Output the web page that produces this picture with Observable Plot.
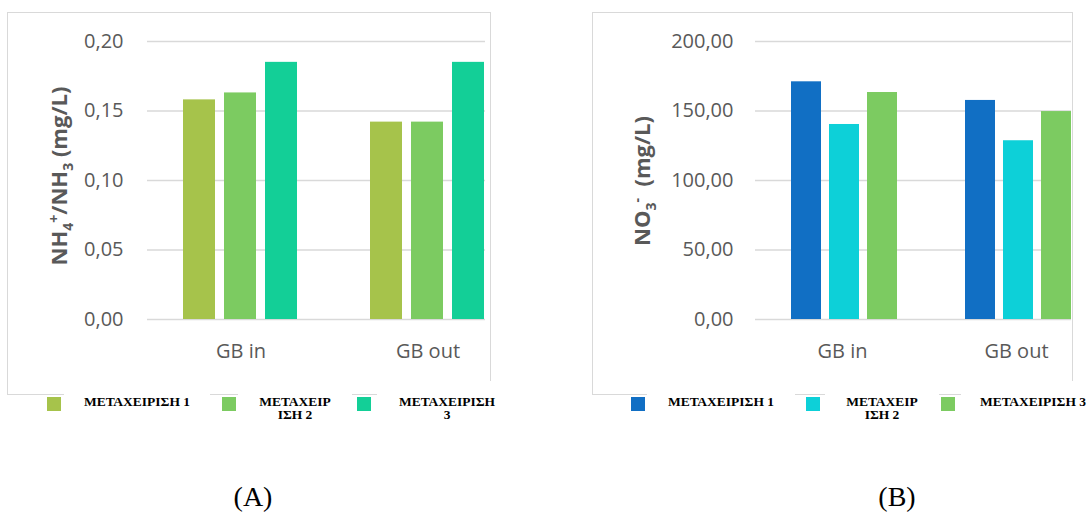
<!DOCTYPE html>
<html><head><meta charset="utf-8">
<script src="https://cdn.jsdelivr.net/npm/d3@7"></script>
<script src="https://cdn.jsdelivr.net/npm/@observablehq/plot@0.6"></script>
<style>
body{margin:0;background:#fff;}
#page{position:relative;width:1087px;height:515px;overflow:hidden;font-family:"Open Sans",sans-serif;background:#fff;}
.frame{position:absolute;border:1.5px solid #d9d9d9;box-sizing:border-box;}
.clip{position:absolute;top:0;height:392px;overflow:hidden;}
.clip svg{max-width:none !important;height:392px !important;}
.ylab{position:absolute;transform:translate(-50%,-50%) rotate(-90deg);white-space:nowrap;font-weight:700;font-size:22px;color:#595959;font-family:"Open Sans",sans-serif;}
.ylab sub,.ylab sup{font-size:14px;}
.legbox{position:absolute;background:#fff;top:381px;height:50px;}
.legtext{position:absolute;left:0;right:0;top:14px;font-family:"Liberation Serif",serif;font-weight:bold;font-size:13.5px;line-height:13px;text-align:center;color:#000;}
.sw{position:absolute;width:14px;height:14px;top:397px;}
.cap{position:absolute;top:483px;font-family:"Liberation Serif",serif;font-size:28px;line-height:28px;color:#000;transform:translateX(-50%);}
</style></head>
<body><div id="page"></div>
<script>
// ---- data ----
const groups = ["GB in", "GB out"];
const series = ["ΜΕΤΑΧΕΙΡΙΣΗ 1", "ΜΕΤΑΧΕΙΡΙΣΗ 2", "ΜΕΤΑΧΕΙΡΙΣΗ 3"];
const nh4In  = [0.158, 0.163, 0.185];
const nh4Out = [0.142, 0.142, 0.185];
const no3In  = [171.0, 140.3, 163.3];
const no3Out = [157.6, 128.6, 149.6];
const yTicksA = [0, 0.05, 0.10, 0.15, 0.20];
const yTicksB = [0, 50, 100, 150, 200];
const colorsA = ["#a6c34b", "#7ccb61", "#13cf97"];
const colorsB = ["#116fc4", "#0dd0d8", "#7ccb61"];
const legendLinesA = [["ΜΕΤΑΧΕΙΡΙΣΗ 1"], ["ΜΕΤΑΧΕΙΡ", "ΙΣΗ 2"], ["ΜΕΤΑΧΕΙΡΙΣΗ", "3"]];
const legendLinesB = [["ΜΕΤΑΧΕΙΡΙΣΗ 1"], ["ΜΕΤΑΧΕΙΡ", "ΙΣΗ 2"], ["ΜΕΤΑΧΕΙΡΙΣΗ 3"]];
const yLabelA = 'NH<sub>4</sub><sup>+</sup>/NH<sub>3</sub> (mg/L)';
const yLabelB = 'NO<sub>3</sub><sup>-</sup>&nbsp; (mg/L)';
const captions = ["(A)", "(B)"];

const page = document.getElementById("page");
const fmt = d => d.toFixed(2).replace(".", ",");

function table(inV, outV){
  return groups.flatMap((g, gi) => series.map((s, si) => ({group: g, series: s, value: (gi === 0 ? inV : outV)[si]})));
}

function addDiv(cls, style, html, parent){
  const d = document.createElement("div");
  d.className = cls;
  Object.assign(d.style, style);
  if (html != null) d.innerHTML = html;
  (parent || page).appendChild(d);
  return d;
}

function panel(cfg){
  addDiv("frame", {left: cfg.frame[0] + "px", top: "12px", width: (cfg.frame[1] - cfg.frame[0]) + "px", height: "383px"});
  const chart = Plot.plot({
    width: cfg.width, height: 392,
    marginLeft: cfg.ml, marginRight: 0, marginTop: 41, marginBottom: 73,
    style: {fontFamily: "'Open Sans', sans-serif", fontSize: "20px", color: "#595959", background: "transparent", maxWidth: "none"},
    fx: {domain: groups, paddingInner: 0, paddingOuter: 0, label: null, axis: "bottom", tickSize: 0, tickPadding: 24},
    x: {domain: series, paddingInner: cfg.xPi, paddingOuter: cfg.xPo, align: cfg.xAlign, axis: null},
    y: {domain: cfg.ydom},
    color: {domain: series, range: cfg.colors},
    marks: [
      Plot.gridY(cfg.ticks, {stroke: "#d9d9d9", strokeOpacity: 1, strokeWidth: 1.5}),
      Plot.axisY(cfg.ticks, {tickSize: 0, tickPadding: cfg.tp, tickFormat: fmt, label: null}),
      Plot.barY(cfg.data, {fx: "group", x: "series", y: "value", fill: "series"})
    ]
  });
  const clip = addDiv("clip", {left: cfg.left + "px", width: cfg.clipW + "px"});
  clip.appendChild(chart);
  addDiv("ylab", {left: cfg.ylabX + "px", top: cfg.ylabY + "px"}, cfg.ylab);
  cfg.legend.forEach((lines, i) => {
    const b = cfg.boxes[i];
    const box = addDiv("legbox", {left: b[0] + "px", width: (b[1] - b[0]) + "px"});
    addDiv("legtext", {}, lines.join("<br>"), box);
    addDiv("sw", {left: cfg.sw[i] + "px", background: cfg.colors[i]});
  });
  addDiv("cap", {left: cfg.capX + "px"}, cfg.cap);
}

panel({
  frame: [7, 491], left: 0, width: 521, clipW: 485, ml: 147, tp: 24,
  xPi: 0.209, xPo: 0.8655, xAlign: 0.493,
  ydom: [0, 0.2], ticks: yTicksA, colors: colorsA, data: table(nh4In, nh4Out),
  ylab: yLabelA, ylabX: 60, ylabY: 176,
  legend: legendLinesA, boxes: [[64, 210], [238, 352], [377, 517]], sw: [47, 222, 357],
  cap: captions[0], capX: 253
});
panel({
  frame: [592, 1073], left: 560, width: 543, clipW: 511, ml: 195, tp: 22,
  xPi: 0.22, xPo: 0.87, xAlign: 0.52,
  ydom: [0, 200], ticks: yTicksB, colors: colorsB, data: table(no3In, no3Out),
  ylab: yLabelB, ylabX: 643, ylabY: 181,
  legend: legendLinesB, boxes: [[647, 795], [825, 939], [961, 1105]], sw: [631, 806, 941],
  cap: captions[1], capX: 897
});
</script>
</body></html>
